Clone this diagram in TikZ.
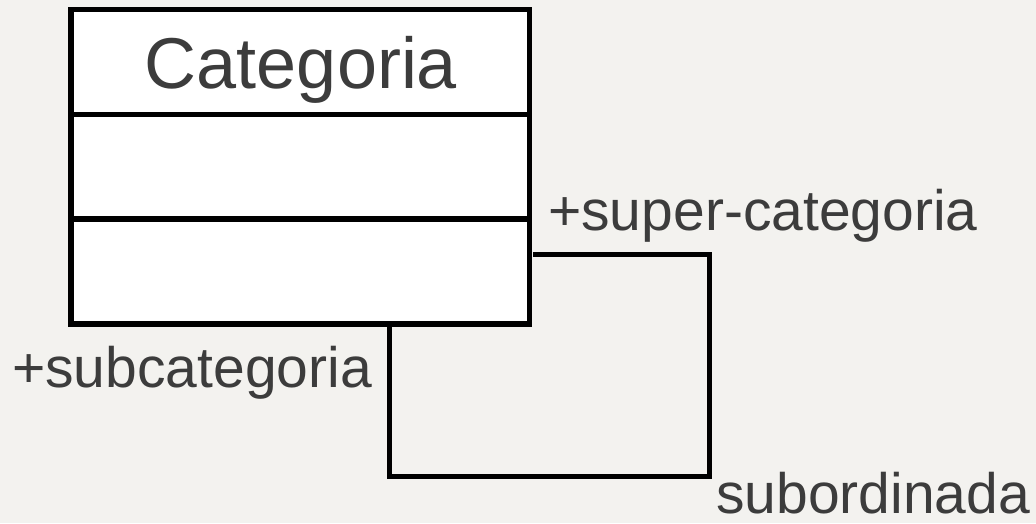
\documentclass[tikz,border=0pt]{standalone}
\usepackage{fontspec}
\setmainfont{Liberation Sans}
\definecolor{fondo}{HTML}{F3F2EF}
\definecolor{texto}{HTML}{3C3C3C}
\tikzset{
  classbox/.style={draw=black, line width=5.5pt, fill=white, inner sep=0pt},
  assoc/.style={draw=black, line width=5pt},
  rolelabel/.style={text=texto, inner sep=0pt, font=\fontsize{57}{60}\selectfont}
}
\begin{document}
\begin{tikzpicture}[x=1pt, y=-1pt]
      % fondo
      \fill[fondo] (0,0) rectangle (1036,523);
      \useasboundingbox (0,0) rectangle (1036,523);
      % clase Categoria
      \node[classbox, minimum width=458.5pt, minimum height=314.7pt] (cat) at (300,166.7) {};
      \node[rolelabel, anchor=base, font=\fontsize{72}{76}\selectfont] (titulo) at (301,88) {Categoria};
      % separadores
      \draw[line width=5.5pt] (cat.west |- 0,114.3) -- (cat.east |- 0,114.3);
      \draw[line width=5.5pt] (cat.west |- 0,219) -- (cat.east |- 0,219);
      % autoasociacion
      \coordinate (supend) at (533,254);
      \coordinate (subend) at (cat.south -| 389,0);
      \draw[assoc] (supend) -| (709,476) -| (subend);
      % roles
      \node[rolelabel, anchor=base west] (super) at (548,230) {+super-categoria};
      \node[rolelabel, anchor=base west] (sub) at (12,387) {+subcategoria};
      \node[rolelabel, anchor=base west, text depth=0pt] (nombre) at (716,513) {subordinada};
\end{tikzpicture}
\end{document}
